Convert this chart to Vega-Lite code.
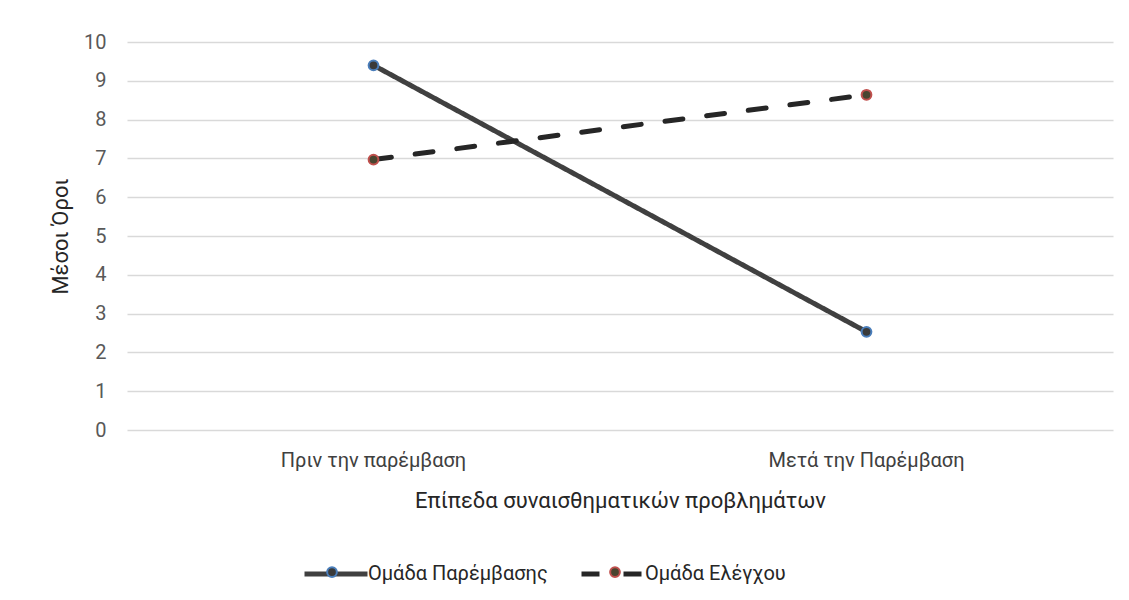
{
  "$schema": "https://vega.github.io/schema/vega-lite/v6.json",
  "width": 986,
  "height": 388,
  "autosize": "none",
  "padding": {"left": 127, "top": 42, "right": 16, "bottom": 170},
  "background": "#ffffff",
  "data": {
    "values": [
      {"stage": "Πριν την παρέμβαση", "group": "Ομάδα Παρέμβασης", "value": 9.4},
      {"stage": "Μετά την Παρέμβαση", "group": "Ομάδα Παρέμβασης", "value": 2.53},
      {"stage": "Πριν την παρέμβαση", "group": "Ομάδα Ελέγχου", "value": 6.97},
      {"stage": "Μετά την Παρέμβαση", "group": "Ομάδα Ελέγχου", "value": 8.64}
    ]
  },
  "encoding": {
    "x": {
      "field": "stage",
      "type": "nominal",
      "sort": ["Πριν την παρέμβαση", "Μετά την Παρέμβαση"],
      "scale": {"type": "band", "paddingInner": 0, "paddingOuter": 0},
      "axis": {
        "title": "Επίπεδα συναισθηματικών προβλημάτων",
        "labelAngle": 0,
        "labelLimit": 400,
        "domain": false,
        "ticks": false,
        "grid": false,
        "labelPadding": 20,
        "labelFontSize": 20,
        "labelColor": "#404040",
        "titleFontSize": 22,
        "titleFontWeight": "normal",
        "titleColor": "#262626",
        "titlePadding": 20
      }
    },
    "y": {
      "field": "value",
      "type": "quantitative",
      "scale": {"domain": [0, 10], "nice": false},
      "axis": {
        "title": "Μέσοι Όροι",
        "values": [0, 1, 2, 3, 4, 5, 6, 7, 8, 9, 10],
        "domain": false,
        "ticks": false,
        "gridColor": "#d9d9d9",
        "gridWidth": 1.5,
        "labelPadding": 21,
        "labelFontSize": 20,
        "labelColor": "#595959",
        "titleFontSize": 22,
        "titleFontWeight": "normal",
        "titleColor": "#262626",
        "titlePadding": 11
      }
    }
  },
  "layer": [
    {
      "mark": {"type": "line", "strokeWidth": 5, "strokeCap": "round"},
      "encoding": {
        "color": {
          "field": "group",
          "type": "nominal",
          "scale": {"domain": ["Ομάδα Παρέμβασης", "Ομάδα Ελέγχου"], "range": ["#404040", "#262626"]},
          "legend": {
            "title": null,
            "orient": "none",
            "legendX": 175,
            "legendY": 498,
            "direction": "horizontal",
            "columns": 2,
            "symbolType": "stroke",
            "symbolSize": 3969,
            "symbolStrokeWidth": 5,
            "labelOffset": -2,
            "labelLimit": 400,
            "columnPadding": 23,
            "labelFontSize": 20,
            "labelColor": "#262626",
            "zindex": 1
          }
        },
        "strokeDash": {
          "field": "group",
          "type": "nominal",
          "scale": {"domain": ["Ομάδα Παρέμβασης", "Ομάδα Ελέγχου"], "range": [[1, 0], [18, 24]]},
          "legend": {
            "title": null,
            "orient": "none",
            "legendX": 175,
            "legendY": 498,
            "direction": "horizontal",
            "columns": 2,
            "symbolType": "stroke",
            "symbolSize": 3969,
            "symbolStrokeWidth": 5,
            "labelOffset": -2,
            "labelLimit": 400,
            "columnPadding": 23,
            "labelFontSize": 20,
            "labelColor": "#262626",
            "zindex": 1
          }
        }
      }
    },
    {
      "mark": {"type": "point", "filled": true, "size": 95, "strokeWidth": 2, "opacity": 1},
      "encoding": {
        "fill": {
          "field": "group",
          "type": "nominal",
          "sort": "descending",
          "scale": {"range": ["#3a3a3a", "#4a4530"]},
          "legend": {
            "title": null,
            "orient": "none",
            "legendX": 199,
            "legendY": 524,
            "direction": "horizontal",
            "columns": 2,
            "symbolType": "circle",
            "symbolSize": 95,
            "symbolStrokeWidth": 2,
            "symbolOpacity": 1,
            "labelExpr": "''",
            "labelOffset": 0,
            "columnPadding": 265,
            "zindex": 2
          }
        },
        "stroke": {
          "field": "group",
          "type": "nominal",
          "sort": "descending",
          "scale": {"range": ["#4a7ebb", "#c0504d"]},
          "legend": {
            "title": null,
            "orient": "none",
            "legendX": 199,
            "legendY": 524,
            "direction": "horizontal",
            "columns": 2,
            "symbolType": "circle",
            "symbolSize": 95,
            "symbolStrokeWidth": 2,
            "symbolOpacity": 1,
            "labelExpr": "''",
            "labelOffset": 0,
            "columnPadding": 265,
            "zindex": 2
          }
        }
      }
    }
  ],
  "config": {
    "font": "Roboto",
    "view": {"stroke": null}
  }
}
